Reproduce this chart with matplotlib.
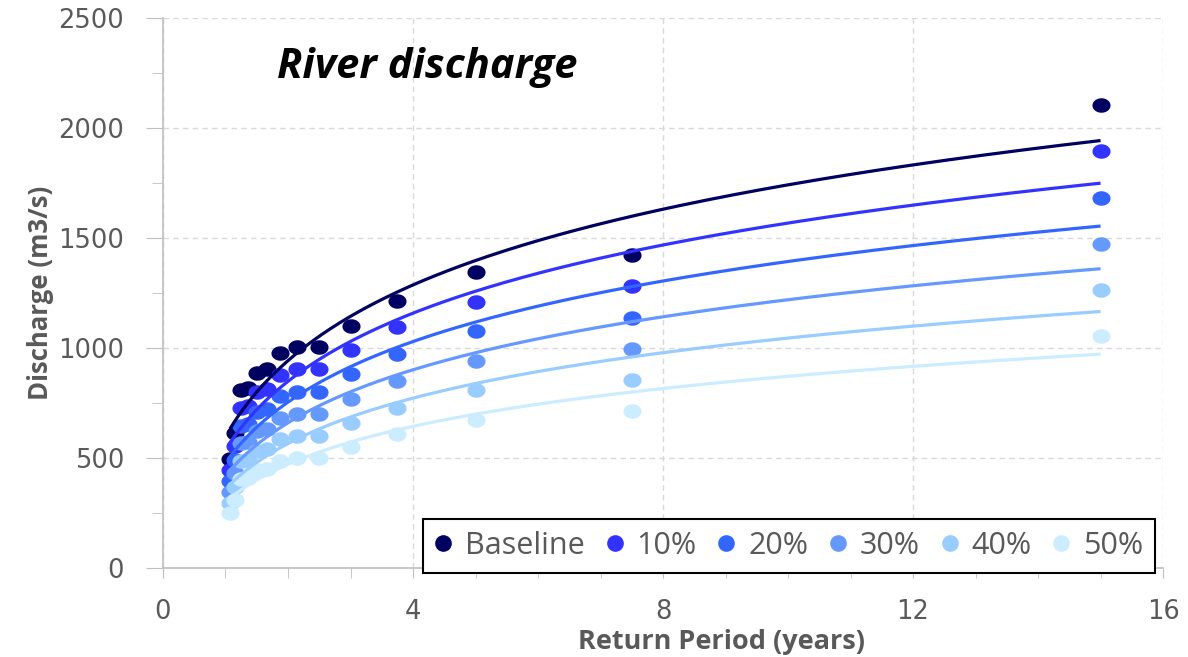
import numpy as np
import matplotlib
matplotlib.use("Agg")
import matplotlib.pyplot as plt
from matplotlib.path import Path
from matplotlib.lines import Line2D

# return periods (years) of the ranked events
return_period = [15, 7.5, 5, 3.75, 3, 2.5, 2.143, 1.875, 1.667, 1.5, 1.364, 1.25, 1.154, 1.071]

# discharge (m3/s)
baseline = [2105, 1423, 1345, 1215, 1100, 1003, 1003, 975, 903, 887, 817, 808, 615, 495]
red10 = [1895, 1281, 1211, 1094, 990, 903, 903, 878, 813, 798, 735, 727, 554, 446]
red20 = [1684, 1138, 1076, 972, 880, 802, 802, 780, 722, 710, 654, 646, 492, 396]
red30 = [1474, 996, 942, 851, 770, 702, 702, 683, 632, 621, 572, 566, 431, 347]
red40 = [1263, 854, 807, 729, 660, 602, 602, 585, 542, 532, 490, 485, 369, 297]
red50 = [1053, 712, 673, 608, 550, 502, 502, 488, 452, 444, 409, 404, 308, 248]

labels = ["Baseline", "10%", "20%", "30%", "40%", "50%"]
series = [baseline, red10, red20, red30, red40, red50]
colors = ["#000060", "#3333FF", "#3366FF", "#6699FF", "#99CCFF", "#CCECFF"]

gray = "#595959"

fig = plt.figure(figsize=(11.88, 6.57), dpi=100)
ax = fig.add_axes([0.1372, 0.1355, 0.8418, 0.8371])

# slightly wide oval marker like the original
t = np.linspace(0, 2 * np.pi, 60)
oval = Path(np.column_stack([np.cos(t), 0.8 * np.sin(t)]))

x = np.array(return_period)
xs = np.linspace(x.min(), x.max(), 200)
for vals, c in zip(series, colors):
    ax.scatter(x, vals, s=170, marker=oval, color=c, linewidths=0, zorder=3)
for vals, c in zip(series, colors):
    # logarithmic trendline
    a, b = np.polyfit(np.log(x), vals, 1)
    ax.plot(xs, a * np.log(xs) + b, color=c, lw=2.3, zorder=4, solid_capstyle="butt")

ax.set_xlim(0, 16)
ax.set_ylim(0, 2500)
ax.set_xticks([0, 4, 8, 12, 16])
ax.set_xticks(np.arange(0, 17, 1), minor=True)
ax.set_yticks([0, 500, 1000, 1500, 2000, 2500])
ax.set_yticks(np.arange(0, 2501, 250), minor=True)

ax.grid(True, which="major", color="#D9D9D9", linestyle=(0, (4, 3)), lw=1)
ax.set_axisbelow(True)
for s in ["top", "right"]:
    ax.spines[s].set_visible(False)
for s in ["left", "bottom"]:
    ax.spines[s].set_color("#BFBFBF")
    ax.spines[s].set_linewidth(1.2)

ax.tick_params(axis="both", which="both", colors="#BFBFBF", labelcolor=gray, direction="out")
ax.tick_params(axis="y", which="major", length=12, pad=16, labelsize=18.5)
ax.tick_params(axis="y", which="minor", length=8)
ax.tick_params(axis="x", which="major", length=7, pad=15, labelsize=18.5)
ax.tick_params(axis="x", which="minor", length=7)

fig.text(0.607, 1 - 649 / 657, "Return Period (years)", fontsize=19.5, fontweight="bold",
         color=gray, family="Open Sans", ha="center", va="baseline")
ax.set_ylabel("Discharge (m3/s)", fontsize=18.5, fontweight="bold", color=gray,
              family="Open Sans", labelpad=3)

ax.text(0.264, 0.891, "River discharge", transform=ax.transAxes, ha="center", va="baseline",
        fontsize=30, fontweight="bold", fontstyle="italic", family="Open Sans", color="black")

handles = [Line2D([], [], linestyle="none", marker="o", markersize=12, color=c,
                  markeredgewidth=0) for c in colors]
leg = ax.legend(handles, labels, ncol=6, loc="center", bbox_to_anchor=(0.626, 0.04),
                prop={"family": "Open Sans", "size": 22}, handlelength=0.55,
                handletextpad=0.44, columnspacing=0.7, borderpad=0.38,
                borderaxespad=0, fancybox=False, framealpha=1, edgecolor="black")
leg.get_frame().set_linewidth(1.5)
for txt in leg.get_texts():
    txt.set_color(gray)
leg.set_zorder(5)

fig.savefig("out.png", dpi=100)
